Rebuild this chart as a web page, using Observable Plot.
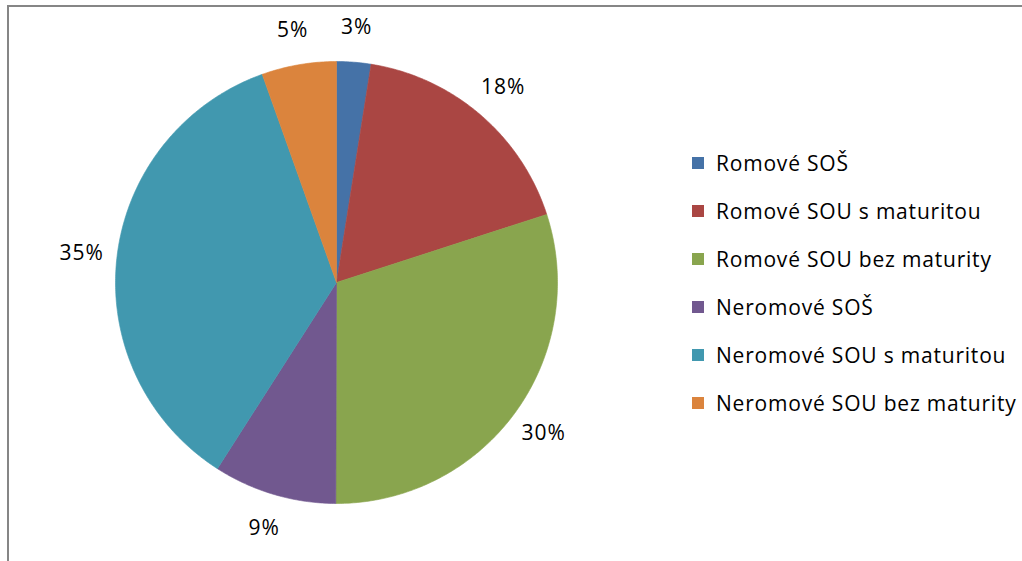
<!DOCTYPE html>
<html>
<head>
<meta charset="utf-8">
<script src="https://cdn.jsdelivr.net/npm/d3@7"></script>
<script src="https://cdn.jsdelivr.net/npm/@observablehq/plot@0.6"></script>
<style>
  html, body { margin: 0; padding: 0; background: #fff; }
  #wrap { position: relative; width: 1022px; height: 561px; overflow: hidden; font-family: "Open Sans", sans-serif; }
  #border { position: absolute; left: 7px; top: 5px; width: 1100px; height: 700px; border-top: 2px solid #868686; border-left: 2px solid #868686; }
  #chart { position: absolute; left: 0; top: 0; }
  #chart text { letter-spacing: 1px; }
  #legend { position: absolute; left: 692px; top: 139px; }
  .item { height: 48px; display: flex; align-items: center; font-size: 21px; letter-spacing: 0.8px; color: #000; white-space: nowrap; }
  .sw { width: 12px; height: 12px; margin-right: 12px; flex: none; }
</style>
</head>
<body>
<div id="wrap">
  <div id="border"></div>
  <div id="chart"></div>
  <div id="legend"></div>
</div>
<script>
// Data
const categories = [
  "Romové SOŠ",
  "Romové SOU s maturitou",
  "Romové SOU bez maturity",
  "Neromové SOŠ",
  "Neromové SOU s maturitou",
  "Neromové SOU bez maturity"
];
const values = [2.5, 17.5, 30.0, 9.0, 35.45, 5.45];
const colors = ["#4572A7", "#AA4643", "#89A54E", "#71588F", "#4198AF", "#DB843D"];

// Build slices via d3.pie (clockwise from 12 o'clock)
const total = d3.sum(values);
const arcs = d3.pie().sort(null).value(d => d)(values);
const fmt = d3.format(".0%");

// Polygon vertices of each sector, in units of the radius
const poly = [];
arcs.forEach((a, i) => {
  const n = Math.max(2, Math.ceil((a.endAngle - a.startAngle) / 0.01));
  poly.push({cat: categories[i], x: 0, y: 0});
  for (let k = 0; k <= n; k++) {
    const t = a.startAngle + (a.endAngle - a.startAngle) * k / n;
    poly.push({cat: categories[i], x: Math.sin(t), y: Math.cos(t)});
  }
  poly.push({cat: categories[i], x: 0, y: 0});
});

const labelR = 1.16;
const labels = arcs.map((a, i) => {
  const m = (a.startAngle + a.endAngle) / 2;
  return {cat: categories[i], x: labelR * Math.sin(m), y: labelR * Math.cos(m), text: fmt(values[i] / total)};
});

// Layout: pie centre at (336, 282), radius 221
const W = 1022, H = 561, cx = 336, cy = 282, R = 221;

const chart = Plot.plot({
  width: W,
  height: H,
  margin: 0,
  x: {domain: [-cx / R, (W - cx) / R], axis: null},
  y: {domain: [-(H - cy) / R, cy / R], axis: null},
  color: {domain: categories, range: colors},
  style: {background: "transparent", fontFamily: "'Open Sans', sans-serif"},
  marks: [
    Plot.line(poly, {x: "x", y: "y", z: "cat", fill: "cat", stroke: "cat", strokeWidth: 0.6, curve: "linear"}),
    Plot.text(labels, {x: "x", y: "y", text: "text", fontSize: 21, fill: "#000"})
  ]
});
document.getElementById("chart").appendChild(chart);

// Legend
const leg = document.getElementById("legend");
categories.forEach((c, i) => {
  const row = document.createElement("div");
  row.className = "item";
  const sw = document.createElement("span");
  sw.className = "sw";
  sw.style.background = colors[i];
  row.appendChild(sw);
  row.appendChild(document.createTextNode(c));
  leg.appendChild(row);
});
</script>
</body>
</html>
